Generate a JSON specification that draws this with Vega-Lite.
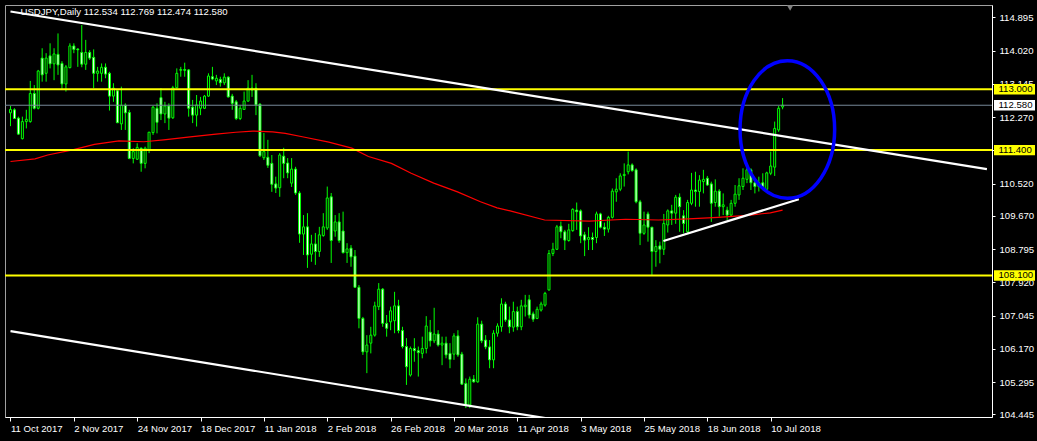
{
  "$schema": "https://vega.github.io/schema/vega-lite/v6.json",
  "width": 987,
  "height": 412,
  "autosize": "none",
  "padding": {"left": 5, "top": 5, "right": 45, "bottom": 24},
  "background": "#000000",
  "config": {"view": {"stroke": "#a0a0a0", "strokeWidth": 1}, "font": "Liberation Sans", "axis": {"labelOverlap": false, "labelBound": false, "labelFlush": false, "grid": false}},
  "title": {"text": "USDJPY,Daily  112.534 112.769 112.474 112.580", "anchor": "start", "frame": "group", "orient": "top", "offset": -12, "baseline": "top", "dx": 15.5, "color": "#ffffff", "font": "Liberation Sans", "fontSize": 9.6, "fontWeight": "normal"},
  "datasets": {
    "candles": [
      {"t":0,"o":112.38,"h":112.56,"l":112.03,"c":112.47},
      {"t":1,"o":112.46,"h":112.50,"l":112.22,"c":112.23},
      {"t":2,"o":112.24,"h":112.28,"l":111.80,"c":111.82},
      {"t":3,"o":111.70,"h":112.28,"l":111.68,"c":112.15},
      {"t":4,"o":112.15,"h":112.46,"l":111.97,"c":112.21},
      {"t":5,"o":112.15,"h":113.22,"l":112.12,"c":112.89},
      {"t":6,"o":112.89,"h":113.11,"l":112.47,"c":112.50},
      {"t":7,"o":112.50,"h":113.51,"l":112.47,"c":113.48},
      {"t":8,"o":113.82,"h":114.08,"l":113.20,"c":113.38},
      {"t":9,"o":113.42,"h":113.95,"l":113.20,"c":113.82},
      {"t":10,"o":113.88,"h":114.21,"l":113.55,"c":113.67},
      {"t":11,"o":113.67,"h":114.08,"l":113.24,"c":113.93},
      {"t":12,"o":113.92,"h":114.47,"l":113.38,"c":113.64},
      {"t":13,"o":113.68,"h":113.74,"l":112.98,"c":113.14},
      {"t":14,"o":113.14,"h":113.64,"l":112.94,"c":113.59},
      {"t":15,"o":113.57,"h":114.21,"l":113.55,"c":114.14},
      {"t":16,"o":114.14,"h":114.21,"l":113.95,"c":114.05},
      {"t":17,"o":114.06,"h":114.08,"l":113.59,"c":114.04},
      {"t":18,"o":113.97,"h":114.69,"l":113.58,"c":113.66},
      {"t":19,"o":113.66,"h":114.30,"l":113.51,"c":113.97},
      {"t":20,"o":113.97,"h":114.03,"l":113.77,"c":113.82},
      {"t":21,"o":113.84,"h":114.05,"l":113.03,"c":113.42},
      {"t":22,"o":113.42,"h":113.59,"l":113.20,"c":113.48},
      {"t":23,"o":113.42,"h":113.68,"l":113.20,"c":113.58},
      {"t":24,"o":113.58,"h":113.68,"l":113.29,"c":113.40},
      {"t":25,"o":113.42,"h":113.46,"l":112.44,"c":112.82},
      {"t":26,"o":112.82,"h":113.16,"l":112.67,"c":113.03},
      {"t":27,"o":112.96,"h":113.00,"l":112.11,"c":112.12},
      {"t":28,"o":112.09,"h":113.07,"l":111.93,"c":112.58},
      {"t":29,"o":112.58,"h":112.63,"l":111.93,"c":112.38},
      {"t":30,"o":112.39,"h":112.46,"l":111.16,"c":111.18},
      {"t":31,"o":111.18,"h":111.45,"l":111.05,"c":111.36},
      {"t":32,"o":111.16,"h":111.58,"l":111.14,"c":111.47},
      {"t":33,"o":111.45,"h":111.47,"l":110.83,"c":111.05},
      {"t":34,"o":111.05,"h":111.49,"l":110.92,"c":111.45},
      {"t":35,"o":111.40,"h":111.88,"l":111.32,"c":111.87},
      {"t":36,"o":111.86,"h":112.56,"l":111.80,"c":112.53},
      {"t":37,"o":112.50,"h":112.63,"l":111.84,"c":112.13},
      {"t":38,"o":112.78,"h":113.03,"l":112.19,"c":112.35},
      {"t":39,"o":112.35,"h":112.67,"l":112.11,"c":112.56},
      {"t":40,"o":112.56,"h":112.63,"l":111.93,"c":112.24},
      {"t":41,"o":112.25,"h":113.09,"l":112.22,"c":113.04},
      {"t":42,"o":113.04,"h":113.55,"l":113.03,"c":113.42},
      {"t":43,"o":113.50,"h":113.59,"l":113.33,"c":113.52},
      {"t":44,"o":113.52,"h":113.70,"l":113.33,"c":113.50},
      {"t":45,"o":113.51,"h":113.53,"l":112.28,"c":112.50},
      {"t":46,"o":112.53,"h":112.72,"l":112.11,"c":112.32},
      {"t":47,"o":112.32,"h":112.85,"l":112.02,"c":112.59},
      {"t":48,"o":112.50,"h":112.80,"l":112.32,"c":112.69},
      {"t":49,"o":112.50,"h":112.85,"l":112.48,"c":112.82},
      {"t":50,"o":112.82,"h":113.42,"l":112.80,"c":113.35},
      {"t":51,"o":113.33,"h":113.59,"l":113.24,"c":113.27},
      {"t":52,"o":113.22,"h":113.38,"l":113.11,"c":113.29},
      {"t":53,"o":113.26,"h":113.33,"l":113.07,"c":113.17},
      {"t":54,"o":113.17,"h":113.42,"l":113.11,"c":113.32},
      {"t":55,"o":113.32,"h":113.34,"l":112.78,"c":112.80},
      {"t":56,"o":112.82,"h":112.88,"l":112.46,"c":112.63},
      {"t":57,"o":112.67,"h":112.72,"l":112.19,"c":112.23},
      {"t":58,"o":112.23,"h":112.59,"l":112.19,"c":112.50},
      {"t":59,"o":112.47,"h":112.94,"l":112.46,"c":112.69},
      {"t":60,"o":112.69,"h":113.24,"l":112.67,"c":113.03},
      {"t":61,"o":112.98,"h":113.38,"l":112.80,"c":113.03},
      {"t":62,"o":113.03,"h":113.16,"l":112.32,"c":112.59},
      {"t":63,"o":112.61,"h":112.63,"l":111.22,"c":111.25},
      {"t":64,"o":111.20,"h":111.85,"l":111.14,"c":111.36},
      {"t":65,"o":111.21,"h":111.67,"l":110.93,"c":111.00},
      {"t":66,"o":111.05,"h":111.27,"l":110.30,"c":110.50},
      {"t":67,"o":110.51,"h":110.70,"l":110.27,"c":110.40},
      {"t":68,"o":110.41,"h":111.32,"l":110.17,"c":111.27},
      {"t":69,"o":111.24,"h":111.46,"l":110.66,"c":111.05},
      {"t":70,"o":111.06,"h":111.19,"l":110.66,"c":110.80},
      {"t":71,"o":110.53,"h":111.19,"l":110.43,"c":110.90},
      {"t":72,"o":110.90,"h":110.96,"l":110.22,"c":110.27},
      {"t":73,"o":110.27,"h":110.32,"l":108.96,"c":109.19},
      {"t":74,"o":109.19,"h":109.69,"l":108.64,"c":109.38},
      {"t":75,"o":109.38,"h":109.74,"l":108.30,"c":108.64},
      {"t":76,"o":108.66,"h":109.17,"l":108.46,"c":108.93},
      {"t":77,"o":108.93,"h":109.22,"l":108.38,"c":108.73},
      {"t":78,"o":108.73,"h":109.38,"l":108.59,"c":109.17},
      {"t":79,"o":109.15,"h":109.74,"l":109.12,"c":109.38},
      {"t":80,"o":109.35,"h":110.44,"l":109.30,"c":110.14},
      {"t":81,"o":110.17,"h":110.27,"l":108.43,"c":109.02},
      {"t":82,"o":109.27,"h":109.69,"l":109.12,"c":109.51},
      {"t":83,"o":109.51,"h":109.74,"l":108.96,"c":109.02},
      {"t":84,"o":109.27,"h":109.78,"l":108.68,"c":108.70},
      {"t":85,"o":108.70,"h":108.95,"l":108.43,"c":108.80},
      {"t":86,"o":108.82,"h":108.90,"l":108.33,"c":108.59},
      {"t":87,"o":108.61,"h":108.77,"l":107.78,"c":107.79},
      {"t":88,"o":107.79,"h":107.85,"l":106.71,"c":106.97},
      {"t":89,"o":106.97,"h":107.01,"l":106.01,"c":106.09},
      {"t":90,"o":106.09,"h":106.53,"l":105.53,"c":106.27},
      {"t":91,"o":106.32,"h":106.75,"l":106.05,"c":106.53},
      {"t":92,"o":106.53,"h":107.41,"l":106.49,"c":107.30},
      {"t":93,"o":107.28,"h":107.90,"l":107.19,"c":107.74},
      {"t":94,"o":107.74,"h":107.77,"l":106.75,"c":106.84},
      {"t":95,"o":106.84,"h":107.06,"l":106.49,"c":106.71},
      {"t":96,"o":106.88,"h":107.28,"l":106.66,"c":107.17},
      {"t":97,"o":106.91,"h":107.67,"l":106.58,"c":107.30},
      {"t":98,"o":107.30,"h":107.46,"l":106.58,"c":106.65},
      {"t":99,"o":106.65,"h":106.75,"l":106.18,"c":106.23},
      {"t":100,"o":106.23,"h":106.45,"l":105.22,"c":105.70},
      {"t":101,"o":105.48,"h":106.23,"l":105.44,"c":106.18},
      {"t":102,"o":106.18,"h":106.45,"l":105.83,"c":106.12},
      {"t":103,"o":106.12,"h":106.23,"l":105.44,"c":106.07},
      {"t":104,"o":106.05,"h":106.49,"l":105.92,"c":106.18},
      {"t":105,"o":106.18,"h":107.03,"l":106.05,"c":106.77},
      {"t":106,"o":106.61,"h":106.93,"l":106.23,"c":106.38},
      {"t":107,"o":106.38,"h":107.25,"l":106.32,"c":106.56},
      {"t":108,"o":106.56,"h":106.66,"l":106.23,"c":106.27},
      {"t":109,"o":106.27,"h":106.49,"l":105.74,"c":106.32},
      {"t":110,"o":106.32,"h":106.49,"l":105.92,"c":106.01},
      {"t":111,"o":106.05,"h":106.32,"l":105.66,"c":105.89},
      {"t":112,"o":106.03,"h":106.58,"l":105.88,"c":106.51},
      {"t":113,"o":106.51,"h":106.66,"l":105.96,"c":106.01},
      {"t":114,"o":106.03,"h":106.09,"l":105.22,"c":105.24},
      {"t":115,"o":105.26,"h":105.39,"l":104.61,"c":104.69},
      {"t":116,"o":104.69,"h":105.44,"l":104.61,"c":105.37},
      {"t":117,"o":105.37,"h":105.48,"l":105.28,"c":105.30},
      {"t":118,"o":105.30,"h":107.00,"l":105.28,"c":106.82},
      {"t":119,"o":106.82,"h":106.91,"l":106.32,"c":106.38},
      {"t":120,"o":106.40,"h":106.53,"l":106.16,"c":106.22},
      {"t":121,"o":106.22,"h":106.40,"l":105.66,"c":105.88},
      {"t":122,"o":105.88,"h":106.66,"l":105.66,"c":106.58},
      {"t":123,"o":106.58,"h":106.84,"l":106.49,"c":106.77},
      {"t":124,"o":106.75,"h":107.50,"l":106.62,"c":107.35},
      {"t":125,"o":107.35,"h":107.41,"l":106.88,"c":106.93},
      {"t":126,"o":106.93,"h":107.28,"l":106.58,"c":106.75},
      {"t":127,"o":106.74,"h":107.41,"l":106.62,"c":107.15},
      {"t":128,"o":107.15,"h":107.28,"l":106.66,"c":106.75},
      {"t":129,"o":106.75,"h":107.46,"l":106.66,"c":107.30},
      {"t":130,"o":107.28,"h":107.59,"l":107.02,"c":107.32},
      {"t":131,"o":107.46,"h":107.59,"l":106.97,"c":107.06},
      {"t":132,"o":107.09,"h":107.15,"l":106.88,"c":106.95},
      {"t":133,"o":106.97,"h":107.28,"l":106.95,"c":107.21},
      {"t":134,"o":107.19,"h":107.41,"l":107.15,"c":107.35},
      {"t":135,"o":107.32,"h":107.67,"l":107.28,"c":107.63},
      {"t":136,"o":107.72,"h":108.77,"l":107.70,"c":108.68},
      {"t":137,"o":108.68,"h":108.96,"l":108.61,"c":108.79},
      {"t":138,"o":108.79,"h":109.43,"l":108.77,"c":109.38},
      {"t":139,"o":109.40,"h":109.52,"l":109.08,"c":109.25},
      {"t":140,"o":109.25,"h":109.30,"l":108.77,"c":109.03},
      {"t":141,"o":109.02,"h":109.46,"l":108.99,"c":109.30},
      {"t":142,"o":109.28,"h":109.87,"l":109.25,"c":109.84},
      {"t":143,"o":109.82,"h":110.02,"l":109.30,"c":109.78},
      {"t":144,"o":109.80,"h":109.84,"l":108.95,"c":109.14},
      {"t":145,"o":109.17,"h":109.25,"l":108.61,"c":109.03},
      {"t":146,"o":109.05,"h":109.37,"l":108.77,"c":109.10},
      {"t":147,"o":109.10,"h":109.23,"l":108.77,"c":109.05},
      {"t":148,"o":109.10,"h":109.78,"l":108.95,"c":109.72},
      {"t":149,"o":109.72,"h":109.75,"l":109.34,"c":109.37},
      {"t":150,"o":109.37,"h":109.49,"l":109.14,"c":109.32},
      {"t":151,"o":109.32,"h":109.67,"l":109.23,"c":109.63},
      {"t":152,"o":109.63,"h":110.39,"l":109.60,"c":110.32},
      {"t":153,"o":110.30,"h":110.66,"l":110.04,"c":110.37},
      {"t":154,"o":110.37,"h":110.79,"l":110.32,"c":110.72},
      {"t":155,"o":110.73,"h":111.05,"l":110.44,"c":110.76},
      {"t":156,"o":110.83,"h":111.36,"l":110.76,"c":111.01},
      {"t":157,"o":111.01,"h":111.05,"l":110.83,"c":110.86},
      {"t":158,"o":110.88,"h":110.92,"l":110.00,"c":110.04},
      {"t":159,"o":110.04,"h":110.09,"l":108.90,"c":109.21},
      {"t":160,"o":109.21,"h":109.78,"l":109.17,"c":109.43},
      {"t":161,"o":109.72,"h":109.78,"l":108.99,"c":109.37},
      {"t":162,"o":109.37,"h":109.38,"l":108.11,"c":108.73},
      {"t":163,"o":108.73,"h":109.03,"l":108.33,"c":108.86},
      {"t":164,"o":108.88,"h":108.99,"l":108.42,"c":108.79},
      {"t":165,"o":108.79,"h":109.72,"l":108.64,"c":109.47},
      {"t":166,"o":109.43,"h":109.84,"l":109.23,"c":109.80},
      {"t":167,"o":109.80,"h":109.96,"l":109.43,"c":109.74},
      {"t":168,"o":109.74,"h":110.22,"l":109.46,"c":110.16},
      {"t":169,"o":110.16,"h":110.26,"l":109.25,"c":109.91},
      {"t":170,"o":109.67,"h":109.82,"l":109.21,"c":109.47},
      {"t":171,"o":109.25,"h":110.09,"l":109.21,"c":110.02},
      {"t":172,"o":110.00,"h":110.80,"l":109.95,"c":110.35},
      {"t":173,"o":110.35,"h":110.83,"l":109.91,"c":110.31},
      {"t":174,"o":110.31,"h":110.74,"l":109.91,"c":110.61},
      {"t":175,"o":110.57,"h":110.88,"l":110.26,"c":110.63},
      {"t":176,"o":110.66,"h":110.72,"l":110.46,"c":110.48},
      {"t":177,"o":110.51,"h":110.57,"l":109.51,"c":110.00},
      {"t":178,"o":110.02,"h":110.63,"l":109.91,"c":110.32},
      {"t":179,"o":110.32,"h":110.37,"l":109.65,"c":109.91},
      {"t":180,"o":109.91,"h":110.26,"l":109.69,"c":109.96},
      {"t":181,"o":109.82,"h":109.91,"l":109.56,"c":109.69},
      {"t":182,"o":109.69,"h":110.09,"l":109.65,"c":110.00},
      {"t":183,"o":110.00,"h":110.48,"l":109.91,"c":110.24},
      {"t":184,"o":110.22,"h":110.66,"l":110.09,"c":110.46},
      {"t":185,"o":110.44,"h":110.92,"l":110.35,"c":110.66},
      {"t":186,"o":110.63,"h":110.96,"l":110.53,"c":110.88},
      {"t":187,"o":110.88,"h":110.92,"l":110.35,"c":110.54},
      {"t":188,"o":110.54,"h":110.66,"l":110.26,"c":110.44},
      {"t":189,"o":110.44,"h":110.70,"l":110.31,"c":110.54},
      {"t":190,"o":110.54,"h":110.79,"l":110.35,"c":110.42},
      {"t":191,"o":110.37,"h":110.83,"l":110.35,"c":110.80},
      {"t":192,"o":110.79,"h":111.36,"l":110.74,"c":110.98},
      {"t":193,"o":110.95,"h":112.15,"l":110.72,"c":111.97},
      {"t":194,"o":111.93,"h":112.56,"l":111.88,"c":112.50},
      {"t":195,"o":112.534,"h":112.769,"l":112.474,"c":112.580}
    ],
    "ma": [
      {"t":0,"v":111.10},{"t":6.2,"v":111.17},{"t":9.4,"v":111.27},{"t":15.4,"v":111.40},{"t":21.2,"v":111.55},
      {"t":27.4,"v":111.64},{"t":33.7,"v":111.62},{"t":38.7,"v":111.67},{"t":45.4,"v":111.75},{"t":51.9,"v":111.82},
      {"t":56.9,"v":111.87},{"t":61.2,"v":111.90},{"t":66.2,"v":111.88},{"t":69.4,"v":111.84},{"t":73.7,"v":111.75},
      {"t":80.4,"v":111.61},{"t":86.2,"v":111.45},{"t":90.4,"v":111.23},{"t":96.2,"v":111.05},{"t":101.2,"v":110.79},
      {"t":106.9,"v":110.53},{"t":112.9,"v":110.30},{"t":118.7,"v":110.04},{"t":122.9,"v":109.88},{"t":126.2,"v":109.80},
      {"t":134.9,"v":109.56},{"t":146.2,"v":109.53},{"t":155.4,"v":109.58},{"t":163.7,"v":109.56},{"t":171.2,"v":109.59},
      {"t":178.7,"v":109.63},{"t":186.9,"v":109.69},{"t":191.9,"v":109.75},{"t":195,"v":109.82}
    ],
    "trend": [
      {"id":"upper","t":0,"p":115.047},{"id":"upper","t":246.6,"p":110.90},
      {"id":"lower","t":0,"p":106.634},{"id":"lower","t":135.4,"p":104.342},
      {"id":"support","t":164.9,"p":109.008},{"id":"support","t":199.1,"p":110.105}
    ],
    "levels": [
      {"p":113.0,"kind":"level"},{"p":111.4,"kind":"level"},{"p":108.1,"kind":"level"},{"p":112.58,"kind":"bid"}
    ]
  },
  "layer": [
    {
      "data": {"name": "candles"},
      "mark": {"type": "rule", "color": "#00ff00", "strokeWidth": 1},
      "encoding": {
        "x": {"field": "t", "type": "quantitative", "scale": {"domain": [-0.125, 246.625], "nice": false, "zero": false},
          "axis": {"values": [0,16,32,48,64,80,96,112,128,144,160,176,192], "tickCount": 40,
            "labelExpr": "['11 Oct 2017','2 Nov 2017','24 Nov 2017','18 Dec 2017','11 Jan 2018','2 Feb 2018','26 Feb 2018','20 Mar 2018','11 Apr 2018','3 May 2018','25 May 2018','18 Jun 2018','10 Jul 2018'][round(datum.value/16)]",
            "title": null, "grid": false, "domainColor": "#ffffff", "tickColor": "#ffffff", "labelColor": "#ffffff",
            "tickSize": 4, "labelAlign": "left", "labelBaseline": "top", "labelPadding": 2, "labelFontSize": 9.6,
            "labelFont": "Liberation Sans", "labelOverlap": false, "labelFlush": false, "labelBound": false}},
        "y": {"field": "l", "type": "quantitative", "scale": {"domain": [104.376, 115.218], "nice": false, "zero": false},
          "axis": {"orient": "right", "values": [114.895,114.02,113.145,112.27,111.395,110.52,109.67,108.795,107.92,107.045,106.17,105.295,104.445], "tickCount": 40,
            "format": ".3f", "title": null, "grid": false, "domainColor": "#ffffff", "tickColor": "#ffffff", "labelColor": "#ffffff",
            "tickSize": 3, "labelPadding": 4, "labelFontSize": 9.6, "labelFont": "Liberation Sans", "labelOverlap": false, "labelBound": false, "labelFlush": false}},
        "y2": {"field": "h"}
      }
    },
    {
      "data": {"name": "candles"},
      "mark": {"type": "bar", "orient": "vertical", "size": 2, "stroke": "#00ff00", "strokeWidth": 1},
      "encoding": {
        "x": {"field": "t", "type": "quantitative", "scale": {"domain": [-0.125, 246.625], "nice": false, "zero": false}},
        "y": {"field": "o", "type": "quantitative", "scale": {"domain": [104.376, 115.218], "nice": false, "zero": false}},
        "y2": {"field": "c"},
        "fill": {"condition": {"test": "datum.c > datum.o", "value": "#000000"}, "value": "#ffffff"}
      }
    },
    {
      "data": {"name": "ma"},
      "mark": {"type": "line", "color": "#ff0000", "strokeWidth": 1.2, "clip": true},
      "encoding": {
        "x": {"field": "t", "type": "quantitative", "scale": {"domain": [-0.125, 246.625], "nice": false, "zero": false}},
        "y": {"field": "v", "type": "quantitative", "scale": {"domain": [104.376, 115.218], "nice": false, "zero": false}}
      }
    },
    {
      "data": {"name": "levels"},
      "transform": [{"filter": "datum.kind == 'level'"}],
      "mark": {"type": "rule", "color": "#ffff00", "strokeWidth": 2},
      "encoding": {
        "y": {"field": "p", "type": "quantitative", "scale": {"domain": [104.376, 115.218], "nice": false, "zero": false}}
      }
    },
    {
      "data": {"name": "levels"},
      "transform": [{"filter": "datum.kind == 'bid'"}],
      "mark": {"type": "rule", "color": "#778899", "strokeWidth": 1},
      "encoding": {
        "y": {"field": "p", "type": "quantitative", "scale": {"domain": [104.376, 115.218], "nice": false, "zero": false}}
      }
    },
    {
      "data": {"name": "trend"},
      "mark": {"type": "line", "color": "#ffffff", "strokeWidth": 2.2, "clip": true},
      "encoding": {
        "x": {"field": "t", "type": "quantitative", "scale": {"domain": [-0.125, 246.625], "nice": false, "zero": false}},
        "y": {"field": "p", "type": "quantitative", "scale": {"domain": [104.376, 115.218], "nice": false, "zero": false}},
        "detail": {"field": "id"}
      }
    },
    {
      "data": {"values": [{"t": 196.2, "p": 111.942}]},
      "mark": {"type": "point", "shape": "M1,0C1,0.8033,0.5523,1.4545,0,1.4545C-0.5523,1.4545,-1,0.8033,-1,0C-1,-0.8033,-0.5523,-1.4545,0,-1.4545C0.5523,-1.4545,1,-0.8033,1,0Z", "size": 8949, "filled": false, "stroke": "#0000ff", "strokeWidth": 3.5, "opacity": 1},
      "encoding": {
        "x": {"field": "t", "type": "quantitative", "scale": {"domain": [-0.125, 246.625], "nice": false, "zero": false}},
        "y": {"field": "p", "type": "quantitative", "scale": {"domain": [104.376, 115.218], "nice": false, "zero": false}}
      }
    },
    {
      "data": {"values": [{"t": 196.9, "p": 115.14}]},
      "mark": {"type": "point", "shape": "triangle-down", "size": 40, "filled": true, "color": "#808080", "opacity": 1},
      "encoding": {
        "x": {"field": "t", "type": "quantitative", "scale": {"domain": [-0.125, 246.625], "nice": false, "zero": false}},
        "y": {"field": "p", "type": "quantitative", "scale": {"domain": [104.376, 115.218], "nice": false, "zero": false}}
      }
    },
    {
      "data": {"name": "levels"},
      "mark": {"type": "point", "shape": "M0.2,-0.52H4.3V0.52H0.2Z", "size": 400, "filled": true, "opacity": 1, "strokeWidth": 0},
      "encoding": {
        "x": {"value": "width"},
        "y": {"field": "p", "type": "quantitative", "scale": {"domain": [104.376, 115.218], "nice": false, "zero": false}},
        "fill": {"condition": {"test": "datum.kind == 'bid'", "value": "#ffffff"}, "value": "#ffff00"}
      }
    },
    {
      "data": {"name": "levels"},
      "mark": {"type": "text", "align": "left", "baseline": "middle", "dx": 6.5, "font": "Liberation Sans", "fontSize": 9.6, "color": "#000000"},
      "encoding": {
        "x": {"value": "width"},
        "y": {"field": "p", "type": "quantitative", "scale": {"domain": [104.376, 115.218], "nice": false, "zero": false}},
        "text": {"field": "p", "type": "quantitative", "format": ".3f"}
      }
    }
  ]
}
